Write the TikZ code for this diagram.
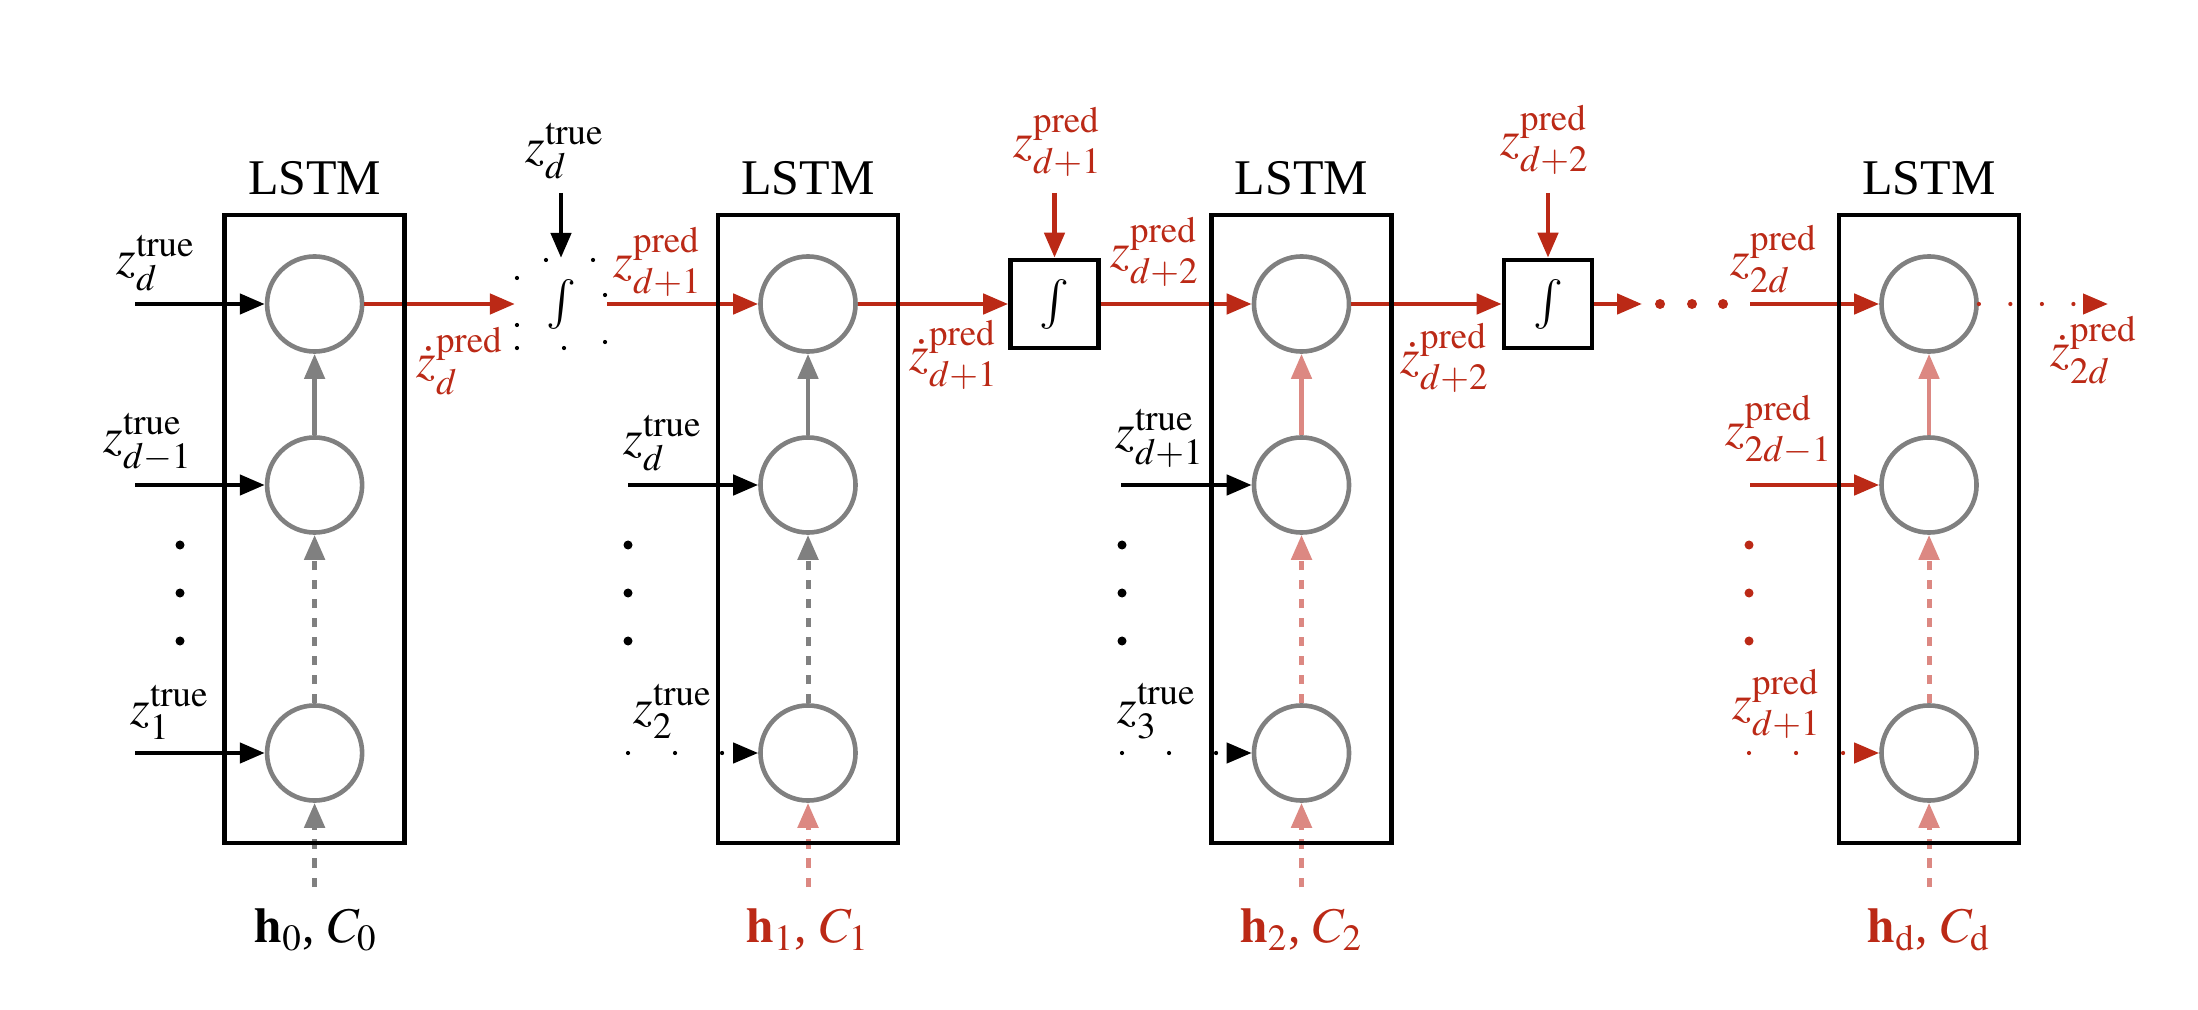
\documentclass[tikz,border=0pt]{standalone}
\usepackage{mathptmx}
\usepackage{fontspec}
\setmainfont{Liberation Serif}
\usetikzlibrary{arrows.meta}
\definecolor{zred}{RGB}{187,41,22}
\definecolor{zpink}{RGB}{220,136,130}
\definecolor{zgray}{RGB}{128,128,128}
\newcommand{\tru}[1]{$z_{#1}^{\mathrm{true}}$}
\newcommand{\prd}[1]{$z_{#1}^{\mathrm{pred}}$}
\newcommand{\dprd}[1]{$\dot z_{#1}^{\mathrm{pred}}$}
\begin{document}
\begin{tikzpicture}[x=.01cm, y=-.01cm, >={Triangle[length=.25cm,width=.2cm]}, line width=.046cm, font=\fontsize{14.2}{17}\selectfont]
	\tikzset{
		cell/.style={circle, draw=zgray, minimum size=.95cm, inner sep=0pt},
		lstmbox/.style={draw, minimum width=1.8cm, minimum height=6.28cm, inner sep=0pt},
		intbox/.style={draw, minimum size=.88cm, inner sep=0pt},
		dotline/.style={dash pattern=on 0pt off #1, line cap=round, line width=.042cm},
		dotline/.default=.47cm,
		gap/.style={dash pattern=on .095cm off .095cm, line width=.05cm}
	}
	\useasboundingbox (0,0) rectangle (2198,1010);
	% cells of the four LSTMs
	\foreach \c/\x in {1/314.6, 2/808, 3/1301.5, 4/1929}{
		\node (L\c) at (\x,178) {LSTM};
		\foreach \r/\y in {1/304, 2/485, 3/753}
			\node[cell] (c\c\r) at (\x,\y) {};
		\coordinate (b\c) at (\x,887);
	}
	\node[intbox, dotline] (I0) at (561,304) {$\int$};
	\node[intbox] (I1) at (1054.5,304) {$\int$};
	\node[intbox] (I2) at (1548,304) {$\int$};
	% free ends
	\path (135,304) coordinate (s11)
	(135,485) coordinate (s12)
	(135,753) coordinate (s13)
	(628,485) coordinate (s22)
	(628,753) coordinate (s23)
	(1121,485) coordinate (s32)
	(1122,753) coordinate (s33)
	(1750,304) coordinate (s41)
	(1750,485) coordinate (s42)
	(1749,753) coordinate (s43)
	(561,193) coordinate (a0)
	(1054.5,193) coordinate (a1)
	(1548,193) coordinate (a2)
	(1642,304) coordinate (e3)
	(2108,304) coordinate (e4);
	% labels
	\node (l11) at (156,263) {\tru{d}};
	\node (l12) at (148,442) {\tru{d-1}};
	\node (l13) at (170,712) {\tru{1}};
	\node (l22) at (663,443) {\tru{d}};
	\node (l23) at (673,711) {\tru{2}};
	\node (l32) at (1160,438) {\tru{d+1}};
	\node (l33) at (1157,711) {\tru{3}};
	\node (t0) at (565,151) {\tru{d}};
	\begin{scope}[zred]
		\node (o1) at (460,361) {\dprd{d}};
		\node (l21) at (658,262) {\prd{d+1}};
		\node (o2) at (954,355) {\dprd{d+1}};
		\node (t1) at (1058,142) {\prd{d+1}};
		\node (l31) at (1155,252) {\prd{d+2}};
		\node (o3) at (1445,358) {\dprd{d+2}};
		\node (t2) at (1545,140) {\prd{d+2}};
		\node (l41) at (1774,259) {\prd{2d}};
		\node (o4) at (2094,350) {\dprd{2d}};
		\node (l42) at (1779,430) {\prd{2d-1}};
		\node (l43) at (1777,704) {\prd{d+1}};
	\end{scope}
	\node (h1) at (316,930) {$\mathbf{h}_0$, $C_0$};
	\node[zred] (h2) at (808,930) {$\mathbf{h}_1$, $C_1$};
	\node[zred] (h3) at (1301.5,930) {$\mathbf{h}_2$, $C_2$};
	\node[zred] (h4) at (1929,930) {$\mathbf{h}_\mathrm{d}$, $C_\mathrm{d}$};
	% inputs
	\draw[->] (s11) -- (c11);
	\draw[->] (s12) -- (c12);
	\draw[->] (s13) -- (c13);
	\draw[->] (s22) -- (c22);
	\draw[->, dotline] (s23) -- (c23);
	\draw[->] (s32) -- (c32);
	\draw[->, dotline] (s33) -- (c33);
	\draw[->] (a0) -- (I0);
	\foreach \x/\col in {180/black, 628/black, 1122/black, 1749/zred}
		\foreach \y in {545,593,641}
			\fill[\col] (\x,\y) circle (.045cm);
	% predicted chain
	\begin{scope}[zred]
		\draw[->] (c11) -- (I0);
		\draw[->] (I0) -- (c21);
		\draw[->] (c21) -- (I1);
		\draw[->] (a1) -- (I1);
		\draw[->] (I1) -- (c31);
		\draw[->] (c31) -- (I2);
		\draw[->] (a2) -- (I2);
		\draw[->] (I2) -- (e3);
		\foreach \x in {1660,1692,1723}
			\fill (\x,304) circle (.05cm);
		\draw[->] (s41) -- (c41);
		\draw[->] (s42) -- (c42);
		\draw[->, dotline] (s43) -- (c43);
		\draw[->, dotline=.315cm] (c41) -- (e4);
	\end{scope}
	% hidden state
	\foreach \c/\col in {1/zgray, 2/zgray, 3/zpink, 4/zpink}{
		\draw[->, \col] (c\c2) -- (c\c1);
		\draw[->, \col, gap] (c\c3) -- (c\c2);
	}
	\foreach \c/\col in {1/zgray, 2/zpink, 3/zpink, 4/zpink}
		\draw[->, \col, gap] (b\c) -- (c\c3);
	\foreach \c/\x in {1/314.6, 2/808, 3/1301.5, 4/1929}
		\node[lstmbox] (B\c) at (\x,529) {};
\end{tikzpicture}
\end{document}
